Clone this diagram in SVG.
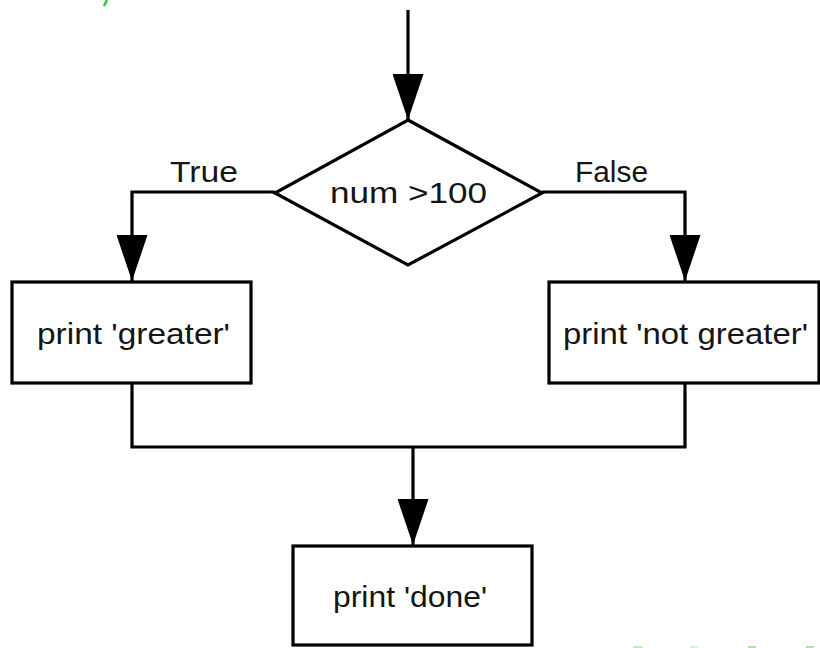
<svg xmlns="http://www.w3.org/2000/svg" width="820" height="648" viewBox="0 0 820 648">
<style>
.box{fill:#fff;stroke:#000;stroke-width:3.2}
.ln{fill:none;stroke:#000;stroke-width:3.2}
.t{font-family:"Liberation Sans",Arial,Helvetica,sans-serif;font-size:29px;fill:#151515}
</style>
<defs>
<marker id="ah" viewBox="0 0 46 31" refX="46" refY="15.5" markerWidth="46" markerHeight="31" markerUnits="userSpaceOnUse" orient="auto">
<path d="M0,0 L46,15.5 L0,31 Z" fill="#000"/>
</marker>
</defs>
<rect width="820" height="648" fill="#fff"/>
<g id="artifacts">
<path d="M104,6 L107,0" stroke="#3bbb4a" stroke-width="2.5"/>
<rect x="633" y="646" width="10" height="2" fill="#c6e8c6"/>
<rect x="690" y="646" width="8" height="2" fill="#d8f0d8"/>
<rect x="748" y="646" width="8" height="2" fill="#b2e0b2"/>
<rect x="806" y="646" width="8" height="2" fill="#b2e0b2"/>
</g>
<g id="connectors">
<path class="ln" d="M408,10 L408,120" marker-end="url(#ah)"/>
<path class="ln" d="M275,192 L132,192 L132,281" marker-end="url(#ah)"/>
<path class="ln" d="M542,192 L685,192 L685,281" marker-end="url(#ah)"/>
<path class="ln" d="M132,383 L132,447 L685,447 L685,383"/>
<path class="ln" d="M413,447 L413,545" marker-end="url(#ah)"/>
<text class="t" x="170" y="182" textLength="68" lengthAdjust="spacingAndGlyphs">True</text>
<text class="t" x="575" y="182" textLength="73" lengthAdjust="spacingAndGlyphs">False</text>
</g>
<g id="decision">
<path class="box" d="M408,120 L542,193 L408,265 L275,193 Z"/>
<text class="t" x="330" y="203" textLength="157" lengthAdjust="spacingAndGlyphs">num &gt;100</text>
</g>
<g id="greater">
<rect class="box" x="12" y="282" width="239" height="101"/>
<text class="t" x="37" y="344" textLength="193" lengthAdjust="spacingAndGlyphs">print 'greater'</text>
</g>
<g id="notgreater">
<rect class="box" x="549" y="282" width="270" height="101"/>
<text class="t" x="563" y="344" textLength="245" lengthAdjust="spacingAndGlyphs">print 'not greater'</text>
</g>
<g id="done">
<rect class="box" x="293" y="546" width="239" height="99"/>
<text class="t" x="333" y="607" textLength="154" lengthAdjust="spacingAndGlyphs">print 'done'</text>
</g>
</svg>
